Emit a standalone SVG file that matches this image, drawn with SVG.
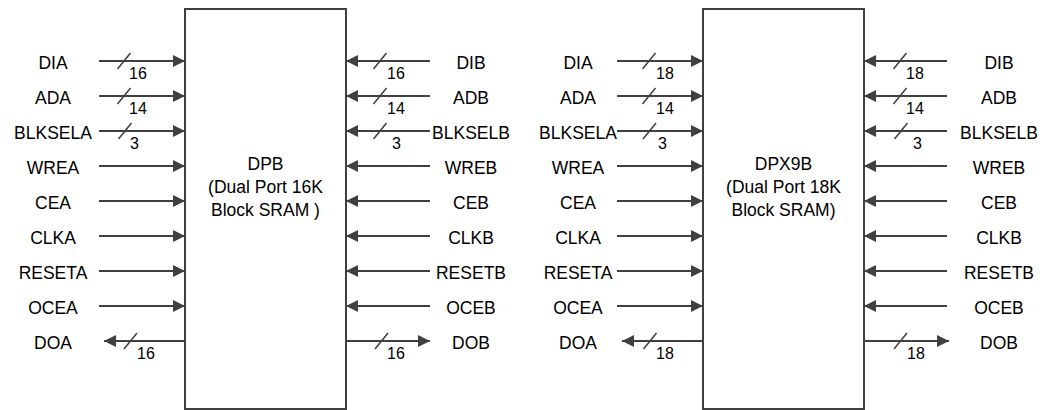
<svg xmlns="http://www.w3.org/2000/svg" width="1048" height="410" viewBox="0 0 1048 410">
<style>
.box{fill:#fff;stroke:#404040;stroke-width:2}
.w{stroke:#404040;stroke-width:1.8;fill:none}
.s{stroke:#404040;stroke-width:1.5;fill:none}
.arr{marker-end:url(#ah)}
.lbl{font-family:"Liberation Sans",Arial,sans-serif;font-size:17.5px;fill:#000;text-anchor:middle}
.num{font-family:"Liberation Sans",Arial,sans-serif;font-size:16px;fill:#000}
.bt{font-family:"Liberation Sans",Arial,sans-serif;font-size:17.5px;fill:#000;text-anchor:middle}
</style>
<defs>
<marker id="ah" markerUnits="userSpaceOnUse" markerWidth="13" markerHeight="12" refX="12" refY="6" orient="auto">
<path d="M0,0 L12,6 L0,12 Z" fill="#404040"/>
</marker>
</defs>
<g id="block1">
<rect class="box" x="185" y="9" width="161" height="400"/>
<text class="bt" x="265.5" y="170">DPB</text>
<text class="bt" x="265.5" y="193">(Dual Port 16K</text>
<text class="bt" x="265.5" y="216">Block SRAM )</text>
</g>
<g id="block2">
<rect class="box" x="703" y="9" width="161" height="400"/>
<text class="bt" x="783.5" y="170">DPX9B</text>
<text class="bt" x="783.5" y="193">(Dual Port 18K</text>
<text class="bt" x="783.5" y="216">Block SRAM)</text>
</g>
<g id="labels">
<text class="lbl" x="53" y="69">DIA</text>
<text class="lbl" x="53" y="104">ADA</text>
<text class="lbl" x="53" y="139">BLKSELA</text>
<text class="lbl" x="53" y="174">WREA</text>
<text class="lbl" x="53" y="209">CEA</text>
<text class="lbl" x="53" y="244">CLKA</text>
<text class="lbl" x="53" y="279">RESETA</text>
<text class="lbl" x="53" y="314">OCEA</text>
<text class="lbl" x="53" y="349">DOA</text>
<text class="lbl" x="471" y="69">DIB</text>
<text class="lbl" x="471" y="104">ADB</text>
<text class="lbl" x="471" y="139">BLKSELB</text>
<text class="lbl" x="471" y="174">WREB</text>
<text class="lbl" x="471" y="209">CEB</text>
<text class="lbl" x="471" y="244">CLKB</text>
<text class="lbl" x="471" y="279">RESETB</text>
<text class="lbl" x="471" y="314">OCEB</text>
<text class="lbl" x="471" y="349">DOB</text>
<text class="lbl" x="578" y="69">DIA</text>
<text class="lbl" x="578" y="104">ADA</text>
<text class="lbl" x="578" y="139">BLKSELA</text>
<text class="lbl" x="578" y="174">WREA</text>
<text class="lbl" x="578" y="209">CEA</text>
<text class="lbl" x="578" y="244">CLKA</text>
<text class="lbl" x="578" y="279">RESETA</text>
<text class="lbl" x="578" y="314">OCEA</text>
<text class="lbl" x="578" y="349">DOA</text>
<text class="lbl" x="999" y="69">DIB</text>
<text class="lbl" x="999" y="104">ADB</text>
<text class="lbl" x="999" y="139">BLKSELB</text>
<text class="lbl" x="999" y="174">WREB</text>
<text class="lbl" x="999" y="209">CEB</text>
<text class="lbl" x="999" y="244">CLKB</text>
<text class="lbl" x="999" y="279">RESETB</text>
<text class="lbl" x="999" y="314">OCEB</text>
<text class="lbl" x="999" y="349">DOB</text>
</g>
<g id="connectors">
<!-- block1 left inputs -->
<line class="w arr" x1="99" y1="61" x2="185" y2="61"/>
<line class="w arr" x1="99" y1="96" x2="185" y2="96"/>
<line class="w arr" x1="99" y1="131" x2="185" y2="131"/>
<line class="w arr" x1="99" y1="166" x2="185" y2="166"/>
<line class="w arr" x1="99" y1="201" x2="185" y2="201"/>
<line class="w arr" x1="99" y1="236" x2="185" y2="236"/>
<line class="w arr" x1="99" y1="271" x2="185" y2="271"/>
<line class="w arr" x1="99" y1="306" x2="185" y2="306"/>
<line class="w arr" x1="185" y1="341" x2="104" y2="341"/>
<!-- block1 right inputs -->
<line class="w arr" x1="430" y1="61" x2="346" y2="61"/>
<line class="w arr" x1="430" y1="96" x2="346" y2="96"/>
<line class="w arr" x1="430" y1="131" x2="346" y2="131"/>
<line class="w arr" x1="430" y1="166" x2="346" y2="166"/>
<line class="w arr" x1="430" y1="201" x2="346" y2="201"/>
<line class="w arr" x1="430" y1="236" x2="346" y2="236"/>
<line class="w arr" x1="430" y1="271" x2="346" y2="271"/>
<line class="w arr" x1="430" y1="306" x2="346" y2="306"/>
<line class="w arr" x1="346" y1="341" x2="430" y2="341"/>
<!-- block2 left inputs -->
<line class="w arr" x1="617" y1="61" x2="703" y2="61"/>
<line class="w arr" x1="617" y1="96" x2="703" y2="96"/>
<line class="w arr" x1="617" y1="131" x2="703" y2="131"/>
<line class="w arr" x1="617" y1="166" x2="703" y2="166"/>
<line class="w arr" x1="617" y1="201" x2="703" y2="201"/>
<line class="w arr" x1="617" y1="236" x2="703" y2="236"/>
<line class="w arr" x1="617" y1="271" x2="703" y2="271"/>
<line class="w arr" x1="617" y1="306" x2="703" y2="306"/>
<line class="w arr" x1="703" y1="341" x2="622" y2="341"/>
<!-- block2 right inputs -->
<line class="w arr" x1="947" y1="61" x2="864" y2="61"/>
<line class="w arr" x1="947" y1="96" x2="864" y2="96"/>
<line class="w arr" x1="947" y1="131" x2="864" y2="131"/>
<line class="w arr" x1="947" y1="166" x2="864" y2="166"/>
<line class="w arr" x1="947" y1="201" x2="864" y2="201"/>
<line class="w arr" x1="947" y1="236" x2="864" y2="236"/>
<line class="w arr" x1="947" y1="271" x2="864" y2="271"/>
<line class="w arr" x1="947" y1="306" x2="864" y2="306"/>
<line class="w arr" x1="864" y1="341" x2="949" y2="341"/>
<!-- bus slashes -->
<line class="s" x1="117.5" y1="69" x2="130.5" y2="53"/>
<line class="s" x1="117.5" y1="104" x2="130.5" y2="88"/>
<line class="s" x1="118.5" y1="139" x2="131.5" y2="123"/>
<line class="s" x1="124" y1="349" x2="137" y2="333"/>
<line class="s" x1="373.5" y1="69" x2="386.5" y2="53"/>
<line class="s" x1="373.5" y1="104" x2="386.5" y2="88"/>
<line class="s" x1="373.5" y1="139" x2="386.5" y2="123"/>
<line class="s" x1="375" y1="349" x2="388" y2="333"/>
<line class="s" x1="642.5" y1="69" x2="655.5" y2="53"/>
<line class="s" x1="642.5" y1="104" x2="655.5" y2="88"/>
<line class="s" x1="643" y1="139" x2="656" y2="123"/>
<line class="s" x1="643.5" y1="349" x2="656.5" y2="333"/>
<line class="s" x1="893.5" y1="69" x2="906.5" y2="53"/>
<line class="s" x1="893.5" y1="104" x2="906.5" y2="88"/>
<line class="s" x1="894.5" y1="139" x2="907.5" y2="123"/>
<line class="s" x1="894" y1="349" x2="907" y2="333"/>
</g>
<g id="bus-widths">
<text class="num" x="129" y="79">16</text>
<text class="num" x="129" y="114">14</text>
<text class="num" x="130" y="149">3</text>
<text class="num" x="137" y="359">16</text>
<text class="num" x="387" y="79">16</text>
<text class="num" x="387" y="114">14</text>
<text class="num" x="392" y="149">3</text>
<text class="num" x="387" y="359">16</text>
<text class="num" x="656" y="79">18</text>
<text class="num" x="656" y="114">14</text>
<text class="num" x="658" y="149">3</text>
<text class="num" x="656" y="359">18</text>
<text class="num" x="906" y="79">18</text>
<text class="num" x="906" y="114">14</text>
<text class="num" x="913" y="149">3</text>
<text class="num" x="907" y="359">18</text>
</g>
</svg>
